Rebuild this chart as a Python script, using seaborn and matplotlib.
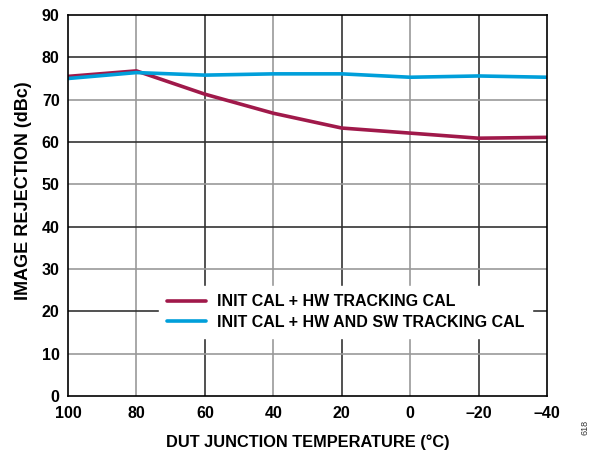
import matplotlib
matplotlib.use("Agg")
import matplotlib.pyplot as plt
import seaborn as sns
import pandas as pd

temps = [100, 80, 60, 40, 20, 0, -20, -40]
hw_only = [75.5, 76.8, 71.3, 66.8, 63.3, 62.1, 60.9, 61.1]
hw_sw = [75.0, 76.4, 75.8, 76.1, 76.1, 75.3, 75.6, 75.3]
series_names = ["INIT CAL + HW TRACKING CAL", "INIT CAL + HW AND SW TRACKING CAL"]
colors = ["#A0194A", "#009FDA"]
x_ticks = [100, 80, 60, 40, 20, 0, -20, -40]
y_ticks = [0, 10, 20, 30, 40, 50, 60, 70, 80, 90]

df = pd.DataFrame({
    "temp": temps * 2,
    "value": hw_only + hw_sw,
    "series": [series_names[0]] * len(temps) + [series_names[1]] * len(temps),
})

sns.set_style("white")
plt.rcParams["font.family"] = ["Liberation Sans", "DejaVu Sans"]
plt.rcParams["font.weight"] = "bold"
plt.rcParams["text.color"] = "black"
plt.rcParams["axes.labelcolor"] = "black"
plt.rcParams["xtick.color"] = "black"
plt.rcParams["ytick.color"] = "black"

fig = plt.figure(figsize=(5.98, 4.51), dpi=100)
ax = fig.add_axes([0.1137, 0.122, 0.801, 0.8447])

# grid lines alternating dark / gray
for i, t in enumerate(x_ticks[1:-1]):
    c = "#999999" if i % 2 == 0 else "#333333"
    ax.axvline(t, color=c, lw=1.2, zorder=1)
for v in y_ticks[1:-1]:
    c = "#999999" if v % 20 == 10 else "#333333"
    ax.axhline(v, color=c, lw=1.2, zorder=1)

sns.lineplot(data=df, x="temp", y="value", hue="series", palette=colors,
             linewidth=2.6, ax=ax, zorder=3, sort=False)

ax.set_xlim(100, -40)
ax.set_ylim(0, 90)
ax.set_xticks(x_ticks)
ax.set_xticklabels([str(t).replace("-", "\u2013") for t in x_ticks])
ax.set_yticks(y_ticks)
ax.set_yticklabels([str(v) for v in y_ticks])
ax.tick_params(axis="x", length=0, labelsize=11.5, pad=7, labelcolor="black")
ax.tick_params(axis="y", length=0, labelsize=11.5, pad=6, labelcolor="black")
for lab in ax.get_xticklabels() + ax.get_yticklabels():
    lab.set_fontweight("bold")

ax.set_xlabel("DUT JUNCTION TEMPERATURE (°C)", fontsize=11.8, fontweight="bold", color="black")
ax.xaxis.set_label_coords(0.5, -0.121)
ax.set_ylabel("IMAGE REJECTION (dBc)", fontsize=13, fontweight="bold", color="black")
ax.yaxis.set_label_coords(-0.092, 0.54)
ax.yaxis.label.set_va("center")
ax.xaxis.label.set_va("center")

for s in ax.spines.values():
    s.set_color("black")
    s.set_linewidth(1.2)
    s.set_zorder(5)

leg = ax.legend(loc="center", bbox_to_anchor=(0.58, 0.22), frameon=True,
                fontsize=11.5, handlelength=2.4, handletextpad=0.7,
                borderpad=0.5, labelspacing=0.35)
leg.get_frame().set_facecolor("white")
leg.get_frame().set_edgecolor("white")
leg.get_frame().set_alpha(1.0)
leg.set_zorder(4)
for t in leg.get_texts():
    t.set_fontweight("bold")
    t.set_color("black")
for h in leg.get_lines():
    h.set_linewidth(2.6)

fig.text(0.985, 0.035, "618", rotation=90, fontsize=6.5, fontweight="normal",
         ha="right", va="bottom", color="#333333")

fig.savefig("out.png", dpi=100, facecolor="white")
